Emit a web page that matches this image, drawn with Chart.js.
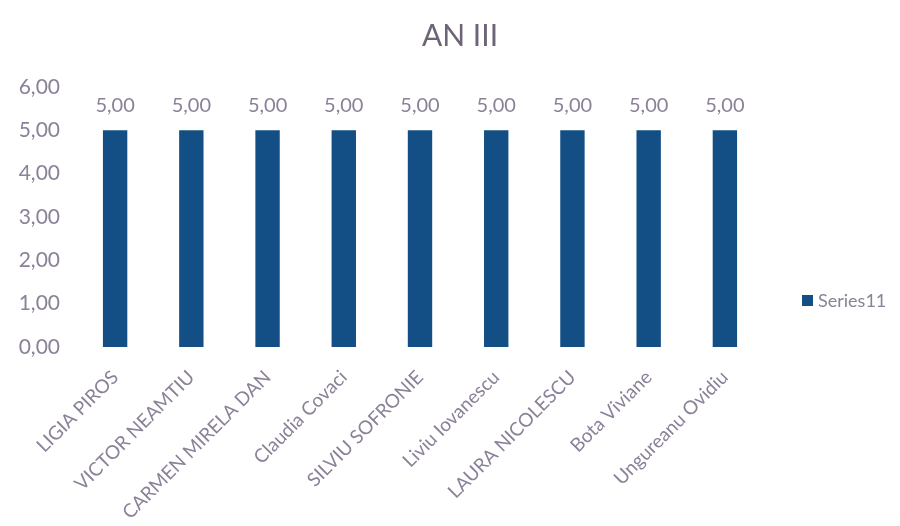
<!DOCTYPE html>
<html>
<head>
<meta charset="utf-8">
<script src="https://cdn.jsdelivr.net/npm/chart.js@4.4.0/dist/chart.umd.min.js"></script>
<style>
  html, body { margin: 0; padding: 0; background: #fff; }
  #wrap { width: 900px; height: 526px; }
</style>
</head>
<body>
<div id="wrap"><canvas id="myChart"></canvas></div>
<script>
// data
var names = ['LIGIA PIROS', 'VICTOR NEAMTIU', 'CARMEN MIRELA DAN', 'Claudia Covaci',
  'SILVIU SOFRONIE', 'Liviu Iovanescu', 'LAURA NICOLESCU', 'Bota Viviane', 'Ungureanu Ovidiu'];
var series11 = [5, 5, 5, 5, 5, 5, 5, 5, 5];
var yTicks = [0, 1, 2, 3, 4, 5, 6];

var textColor = '#8b8198';
var barColor = '#134f84';

function fmt(v) {
  return v.toFixed(2).replace('.', ',');
}

// title, value labels and legend drawn on top of the chart
var extras = {
  id: 'extras',
  afterDraw: function (chart) {
    var ctx = chart.ctx;
    ctx.save();
    // title centred on the whole picture
    ctx.font = '30px Lato';
    ctx.fillStyle = '#6e6478';
    ctx.textAlign = 'center';
    ctx.textBaseline = 'middle';
    ctx.fillText('AN III', 460, 36);

    // values above bars
    ctx.font = '20px Lato';
    ctx.fillStyle = textColor;
    chart.getDatasetMeta(0).data.forEach(function (bar, i) {
      ctx.fillText(fmt(series11[i]), bar.x, bar.y - 25);
    });

    // legend
    ctx.fillStyle = barColor;
    ctx.fillRect(802, 295, 11, 11);
    ctx.font = '18px Lato';
    ctx.fillStyle = textColor;
    ctx.textAlign = 'left';
    ctx.fillText('Series11', 818, 301);
    ctx.restore();
  }
};

var ctx = document.getElementById('myChart').getContext('2d');
var chart = new Chart(ctx, {
  type: 'bar',
  data: {
    labels: names,
    datasets: [{
      label: 'Series11',
      backgroundColor: barColor,
      data: series11,
      categoryPercentage: 1,
      barPercentage: 0.32
    }]
  },
  options: {
    responsive: true,
    maintainAspectRatio: false,
    animation: false,
    layout: { padding: { left: 0, right: 137, top: 87, bottom: 0 } },
    plugins: {
      legend: { display: false },
      tooltip: { enabled: false },
      title: { display: false }
    },
    scales: {
      y: {
        min: 0,
        max: 6,
        afterBuildTicks: function (axis) {
          axis.ticks = yTicks.map(function (v) { return { value: v }; });
        },
        afterFit: function (axis) { axis.width = 77; },
        grid: { display: false },
        border: { display: false },
        ticks: {
          color: textColor,
          font: { family: 'Lato', size: 21 },
          padding: 9,
          callback: function (v) { return fmt(v); }
        }
      },
      x: {
        afterFit: function (axis) {
          axis.paddingLeft = 0;
          axis.paddingRight = 0;
          axis.height = 179;
        },
        grid: { display: false },
        border: { display: false },
        ticks: {
          color: textColor,
          font: { family: 'Lato', size: 19 },
          padding: 11,
          minRotation: 45,
          maxRotation: 45,
          autoSkip: false
        }
      }
    }
  },
  plugins: [extras]
});
</script>
</body>
</html>
